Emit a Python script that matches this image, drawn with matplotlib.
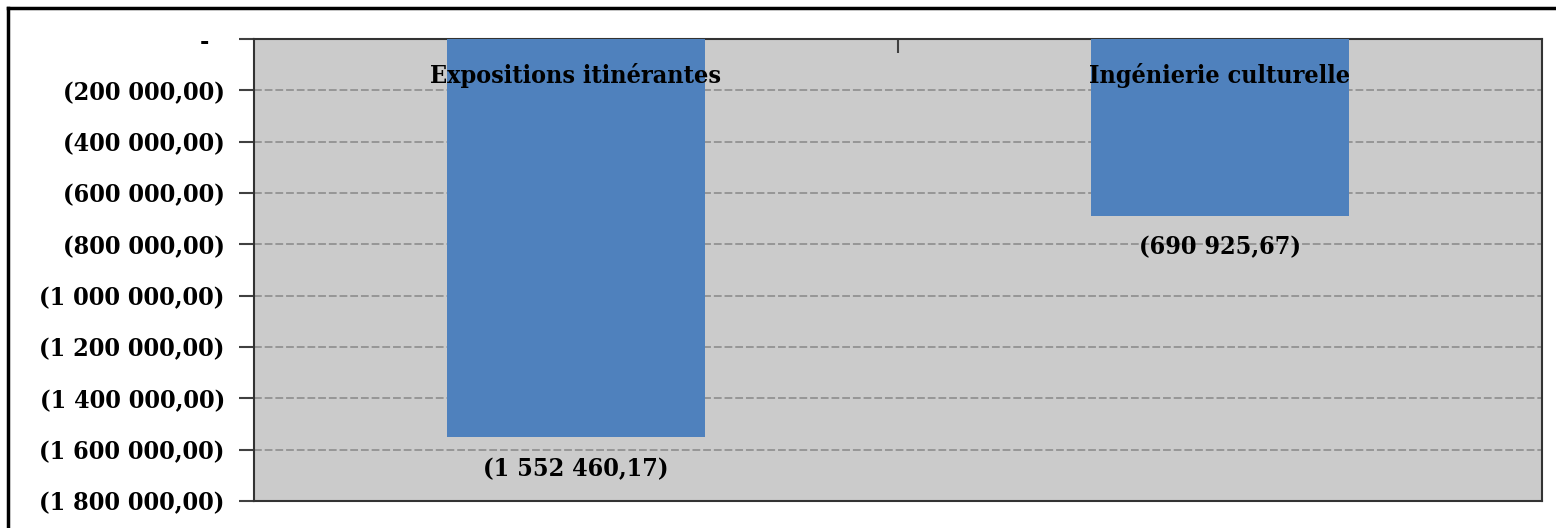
import matplotlib.pyplot as plt
from matplotlib.ticker import FuncFormatter, FixedLocator
from matplotlib.lines import Line2D

categories = ["Expositions itinérantes", "Ingénierie culturelle"]
values = [-1552460.17, -690925.67]
y_ticks = [0, -200000, -400000, -600000, -800000, -1000000,
           -1200000, -1400000, -1600000, -1800000]

plt.rcParams['font.family'] = 'DejaVu Serif'
plt.rcParams['font.weight'] = 'bold'
plt.rcParams['font.stretch'] = 'condensed'


def fr_money(v, pos=None):
    # accounting style: dash for zero, negatives in parentheses
    if v == 0:
        return "-  "
    s = "{:,.2f}".format(abs(v)).replace(",", " ").replace(".", ",")
    return "(" + s + ")" if v < 0 else s


fig = plt.figure(figsize=(15.56, 5.28), dpi=100)
ax = fig.add_axes([254 / 1556, 1 - 501 / 528, (1542 - 254) / 1556, (501 - 39) / 528])
ax.set_facecolor("#cbcbcb")

x = range(len(categories))
ax.bar(x, values, width=0.4, color="#4f81bd", zorder=3)

ax.set_xlim(-0.5, 1.5)
ax.set_ylim(-1800000, 0)
ax.yaxis.set_major_locator(FixedLocator(y_ticks))
ax.yaxis.set_major_formatter(FuncFormatter(fr_money))
ax.tick_params(axis='y', direction='out', length=11, width=1.5, color="#404040",
               labelsize=18, pad=10)

# separator tick between the two categories on the top axis
ax.xaxis.set_ticks_position('top')
ax.set_xticks([0.5])
ax.set_xticklabels([])
ax.tick_params(axis='x', direction='in', length=10, width=1.5, color="#404040")

for yv in y_ticks[1:-1]:
    ax.axhline(yv, color="#969696", lw=1.4, linestyle=(0, (4, 1.5)), zorder=1)

for sp in ax.spines.values():
    sp.set_color("#333333")
    sp.set_linewidth(1.5)

for i, (cat, v) in enumerate(zip(categories, values)):
    ax.annotate(cat, xy=(i, 0), xytext=(0, -26.5), textcoords='offset points',
                ha='center', va='center', fontsize=18, fontweight='bold', zorder=4)
    ax.annotate(fr_money(v), xy=(i, v), xytext=(0, -22.5), textcoords='offset points',
                ha='center', va='center', fontsize=18, fontweight='bold', zorder=4)

# outer frame
fig.add_artist(Line2D([8 / 1556, 1], [1 - 8 / 528, 1 - 8 / 528], color="black", lw=2.5))
fig.add_artist(Line2D([8 / 1556, 8 / 1556], [0, 1 - 8 / 528], color="black", lw=2.5))

fig.savefig("out.png", dpi=100)
